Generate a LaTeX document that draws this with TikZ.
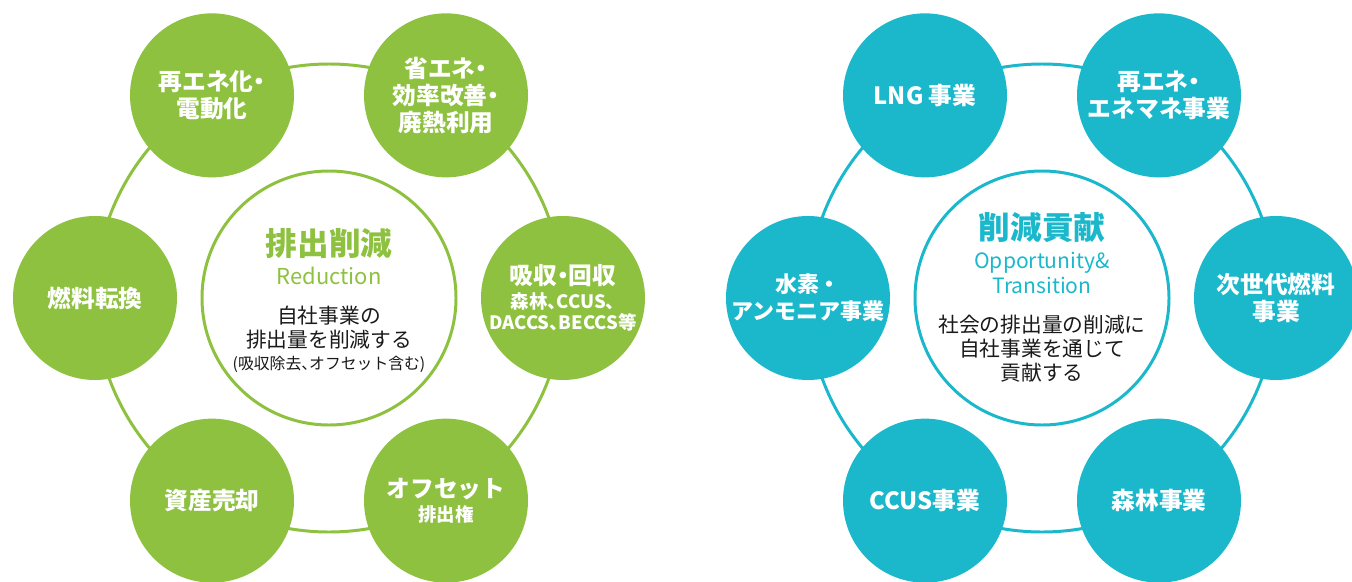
\documentclass[tikz,border=0pt]{standalone}
\usepackage{fontspec}
\setmainfont{Noto Sans CJK JP}
\usepackage{xcolor}
\usepackage{tikz}
\usetikzlibrary{positioning,backgrounds}

\definecolor{cutgreen}{HTML}{8DC13F}
\definecolor{cutteal}{HTML}{1BB8CC}
\definecolor{inktext}{HTML}{1A1A1A}
\newcommand{\leafnote}{\fontsize{10.5}{11.5}\selectfont}
\newcommand{\tightpunct}{\addfontfeature{RawFeature=+halt}}

\begin{document}
\begin{tikzpicture}[
  ring/.style={line width=1.7pt},
  hub/.style={circle, draw=#1, fill=white, line width=1.7pt, minimum size=5.08cm},
  leaf/.style={circle, fill=#1, minimum size=3.28cm, inner sep=0pt, text=white, align=center, font=\fontsize{13.5}{15.3}\selectfont\bfseries\tightpunct},
  hubtitle/.style={font=\fontsize{18}{21}\selectfont\bfseries, text=#1},
  hubsub/.style={font=\fontsize{12}{14.2}\selectfont, text=#1, align=center},
  hubbody/.style={font=\fontsize{11.8}{13.6}\selectfont, text=inktext, align=center}
]
\clip (0,0) rectangle (27.04,11.62);

% reduction side
\node[hub=cutgreen] (lc) at (6.58,5.66) {};
\node[hubtitle=cutgreen] (lt) at ([yshift=1.1cm]lc) {排出削減};
\node[hubsub=cutgreen, font=\fontsize{12.5}{14}\selectfont] (ls) at ([yshift=0.44cm]lc) {Reduction};
\node[hubbody] (lb) at ([yshift=-0.6cm]lc) {自社事業の\\排出量を削減する};
\node[hubbody, font=\fontsize{9}{10}\selectfont\tightpunct] (ln) at ([yshift=-1.32cm]lc) {(吸収除去、オフセット含む)};

\node[leaf=cutgreen] (lre) at ([shift={(120:4.68)}]lc) {再エネ化・\\電動化};
\node[leaf=cutgreen] (lsave) at ([shift={(60:4.68)}]lc) {省エネ・\\効率改善・\\廃熱利用};
\node[leaf=cutgreen] (lfuel) at ([shift={(180:4.68)}]lc) {燃料転換};
\node[leaf=cutgreen] (lcap) at ([shift={(0:4.68)}]lc) {吸収・回収\\[-2pt]\leafnote 森林、CCUS、\\[-3pt]\leafnote DACCS、BECCS等};
\node[leaf=cutgreen] (lsell) at ([shift={(240:4.68)}]lc) {資産売却};
\node[leaf=cutgreen] (loff) at ([shift={(300:4.68)}]lc) {オフセット\\[-2pt]\leafnote 排出権};

% contribution side
\node[hub=cutteal] (rc) at (20.84,5.66) {};
\node[hubtitle=cutteal] (rt) at ([yshift=1.4cm]rc) {削減貢献};
\node[hubsub=cutteal] (rs) at ([yshift=0.51cm]rc) {Opportunity\&\\Transition};
\node[hubbody] (rb) at ([yshift=-1.02cm]rc) {社会の排出量の削減に\\自社事業を通じて\\貢献する};

\node[leaf=cutteal] (rlng) at ([shift={(120:4.68)}]rc) {LNG 事業};
\node[leaf=cutteal] (rre) at ([shift={(60:4.68)}]rc) {再エネ・\\エネマネ事業};
\node[leaf=cutteal, font=\fontsize{12.5}{15.3}\selectfont\bfseries] (rh2) at ([shift={(180:4.68)}]rc) {水素・\\アンモニア事業};
\node[leaf=cutteal] (rnext) at ([shift={(0:4.68)}]rc) {次世代燃料\\事業};
\node[leaf=cutteal] (rccus) at ([shift={(240:4.68)}]rc) {CCUS事業};
\node[leaf=cutteal] (rforest) at ([shift={(300:4.68)}]rc) {森林事業};

\begin{scope}[on background layer]
\draw[ring, cutgreen] (lc) circle (4.68);
\draw[ring, cutteal] (rc) circle (4.68);
\end{scope}
\end{tikzpicture}
\end{document}
